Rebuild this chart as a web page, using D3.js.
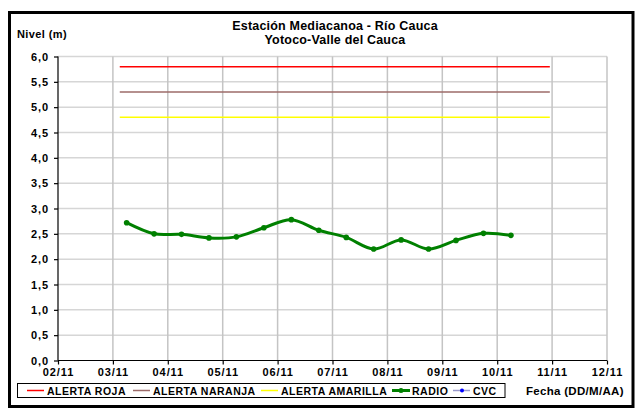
<!DOCTYPE html>
<html>
<head>
<meta charset="utf-8">
<script src="https://cdn.jsdelivr.net/npm/d3@7"></script>
<style>
  body { margin: 0; background: #fff; }
  #myPlot { width: 638px; height: 408px; }
  text { font-family: "Liberation Sans", Arial, sans-serif; font-weight: bold; fill: #000; }
</style>
</head>
<body>
<div id="myPlot"></div>
<script>
// chart values
const titleLines = ["Estación Mediacanoa - Río Cauca", "Yotoco-Valle del Cauca"]
const yLabel = "Nivel (m)"
const xLabel = "Fecha (DD/M/AA)"

const xStart = "2010-11-02T00:00Z"
const xEnd = "2010-11-12T00:00Z"
const yTicks = [0, 0.5, 1, 1.5, 2, 2.5, 3, 3.5, 4, 4.5, 5, 5.5, 6]

const alertNames = ["ALERTA ROJA", "ALERTA NARANJA", "ALERTA AMARILLA"]
const alertLevels = [5.8, 5.3, 4.8]
const alertColors = ["#ff0000", "#9c6b69", "#ffff00"]
const alertSpan = ["2010-11-03T03:00Z", "2010-11-10T23:00Z"]

const radioTimes = [
    "2010-11-03T06:00Z", "2010-11-03T18:00Z", "2010-11-04T06:00Z", "2010-11-04T18:00Z",
    "2010-11-05T06:00Z", "2010-11-05T18:00Z", "2010-11-06T06:00Z", "2010-11-06T18:00Z",
    "2010-11-07T06:00Z", "2010-11-07T18:00Z", "2010-11-08T06:00Z", "2010-11-08T18:00Z",
    "2010-11-09T06:00Z", "2010-11-09T18:00Z", "2010-11-10T06:00Z"
]
const radioLevels = [2.72, 2.50, 2.49, 2.42, 2.44, 2.62, 2.78, 2.57, 2.43, 2.20, 2.38, 2.20, 2.37, 2.51, 2.47]

const cvcTimes = []
const cvcLevels = []

const legendNames = ["ALERTA ROJA", "ALERTA NARANJA", "ALERTA AMARILLA", "RADIO", "CVC"]
const legendColors = ["#ff0000", "#9c6b69", "#ffff00", "#008000", "#0000ff"]

const W = 638, H = 408
const plot = {left: 58, right: 607, top: 56.5, bottom: 360.5}

const svg = d3.select("#myPlot").append("svg")
    .attr("width", W)
    .attr("height", H)

// outer frame
svg.append("rect")
    .attr("x", 9.5).attr("y", 12.5)
    .attr("width", 623.5).attr("height", 394)
    .attr("fill", "#fff")
    .attr("stroke", "#000")
    .attr("stroke-width", 3)

const x = d3.scaleUtc()
    .domain([new Date(xStart), new Date(xEnd)])
    .range([plot.left, plot.right])

const y = d3.scaleLinear()
    .domain([0, 6])
    .range([plot.bottom, plot.top])

const days = d3.utcDay.range(new Date(xStart), d3.utcDay.offset(new Date(xEnd), 1))

// grid
svg.append("g").selectAll("line")
    .data(yTicks.filter(d => d > 0))
    .join("line")
    .attr("x1", plot.left).attr("x2", plot.right)
    .attr("y1", d => y(d)).attr("y2", d => y(d))
    .attr("stroke", "#d6d6d6")
    .attr("stroke-width", 1.5)

svg.append("g").selectAll("line")
    .data(days.slice(1))
    .join("line")
    .attr("x1", d => x(d)).attr("x2", d => x(d))
    .attr("y1", plot.top).attr("y2", plot.bottom)
    .attr("stroke", "#c4c4c4")
    .attr("stroke-width", 1.5)

// axes
const yAxis = d3.axisLeft(y)
    .tickValues(yTicks)
    .tickFormat(d => d3.format(".1f")(d).replace(".", ","))
    .tickSize(4)
    .tickPadding(5)

const xAxis = d3.axisBottom(x)
    .tickValues(days)
    .tickFormat(d3.utcFormat("%d/%m"))
    .tickSize(4)
    .tickPadding(4)

const gy = svg.append("g")
    .attr("transform", `translate(${plot.left},0)`)
    .call(yAxis)
gy.select(".domain").attr("d", `M0,${plot.top}V${plot.bottom}`)

const gx = svg.append("g")
    .attr("transform", `translate(0,${plot.bottom})`)
    .call(xAxis)
gx.select(".domain").attr("d", `M${plot.left},0H${plot.right}`)

svg.selectAll(".tick text")
    .attr("font-family", null)
    .style("font-size", "11px")
    .style("letter-spacing", "0.9px")
svg.selectAll(".domain, .tick line").attr("stroke", "#000").attr("stroke-width", 1.2)

// alert lines
svg.append("g").selectAll("line")
    .data(alertLevels)
    .join("line")
    .attr("x1", x(new Date(alertSpan[0])))
    .attr("x2", x(new Date(alertSpan[1])))
    .attr("y1", d => y(d)).attr("y2", d => y(d))
    .attr("stroke", (d, i) => alertColors[i])
    .attr("stroke-width", 1.5)

// radio series
const radio = radioTimes.map((t, i) => ({date: new Date(t), value: radioLevels[i]}))

const line = d3.line()
    .x(d => x(d.date))
    .y(d => y(d.value))
    .curve(d3.curveCatmullRom.alpha(0))

svg.append("path")
    .datum(radio)
    .attr("d", line)
    .attr("fill", "none")
    .attr("stroke", "#008000")
    .attr("stroke-width", 3)

svg.append("g").selectAll("circle")
    .data(radio)
    .join("circle")
    .attr("cx", d => x(d.date))
    .attr("cy", d => y(d.value))
    .attr("r", 2.8)
    .attr("fill", "#008000")

// cvc series (no readings)
const cvc = cvcTimes.map((t, i) => ({date: new Date(t), value: cvcLevels[i]}))
svg.append("path")
    .datum(cvc)
    .attr("d", line)
    .attr("fill", "none")
    .attr("stroke", "#0000ff")
    .attr("stroke-width", 1)

// titles
svg.append("text")
    .attr("text-anchor", "middle")
    .style("font-size", "12.5px")
    .style("letter-spacing", "0.2px")
    .selectAll("tspan")
    .data(titleLines)
    .join("tspan")
    .attr("x", 335)
    .attr("y", (d, i) => 29.5 + i * 14)
    .text(d => d)

svg.append("text")
    .attr("x", 17).attr("y", 37.5)
    .style("font-size", "11px")
    .style("letter-spacing", "0.4px")
    .text(yLabel)

svg.append("text")
    .attr("x", 526).attr("y", 395)
    .style("font-size", "11.5px")
    .style("letter-spacing", "0.3px")
    .text(xLabel)

// legend
const legendX = [27, 133, 261, 392, 453]
svg.append("rect")
    .attr("x", 17.5).attr("y", 383.5)
    .attr("width", 487.5).attr("height", 14)
    .attr("fill", "#fff")
    .attr("stroke", "#000")
    .attr("stroke-width", 1)

const items = svg.append("g").selectAll("g")
    .data(legendNames)
    .join("g")
    .attr("transform", (d, i) => `translate(${legendX[i]},390.5)`)

items.append("line")
    .attr("x1", 0).attr("x2", (d, i) => i === 3 ? 18 : 17)
    .attr("stroke", (d, i) => i === 4 ? "#9999cc" : legendColors[i])
    .attr("stroke-width", (d, i) => i === 3 ? 3 : 1.5)

items.filter((d, i) => i >= 3).append("circle")
    .attr("cx", 9).attr("r", (d, i) => i === 0 ? 2.5 : 2)
    .attr("fill", (d, i) => legendColors[i + 3])

items.append("text")
    .attr("x", 20)
    .attr("y", 4)
    .style("font-size", "10.5px")
    .style("letter-spacing", "0.5px")
    .text(d => d)
</script>
</body>
</html>
